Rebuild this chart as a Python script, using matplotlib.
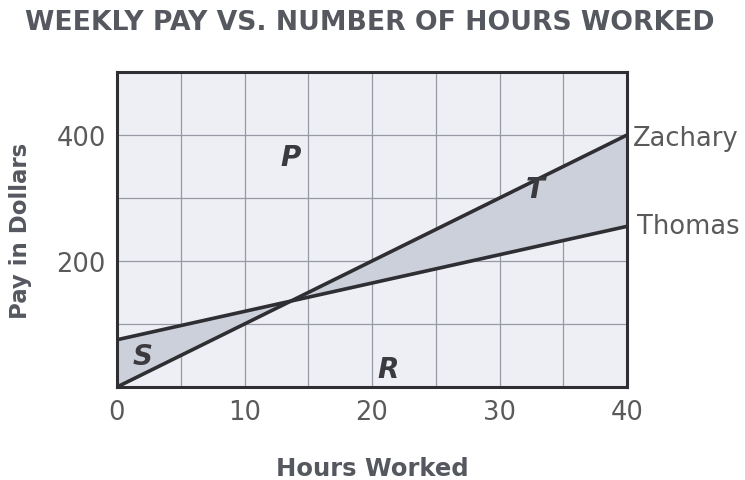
import matplotlib.pyplot as plt
import numpy as np

plt.rcParams["font.family"] = ["DejaVu Sans"]

hours = [0, 40]
zachary = [0, 400]
thomas = [75, 255]

region_labels = ["P", "T", "S", "R"]
region_x = [13.6, 32.8, 2.0, 21.3]
region_y = [365, 314, 49, 28]

fig = plt.figure(figsize=(7.45, 4.81), dpi=100)
ax = fig.add_axes([117 / 745, 1 - 388 / 481, 510 / 745, 315 / 481])
ax.set_facecolor("#edeff4")

# shaded gaps between the two lines
xs = np.linspace(hours[0], hours[1], 200)
z = np.interp(xs, hours, zachary)
t = np.interp(xs, hours, thomas)
ax.fill_between(xs, z, t, color="#ccd0da", zorder=1)

ax.plot(hours, zachary, color="#2e2e33", lw=2.6, zorder=3, solid_capstyle="butt")
ax.plot(hours, thomas, color="#2e2e33", lw=2.6, zorder=3, solid_capstyle="butt")

ax.set_xlim(0, 40)
ax.set_ylim(0, 500)
ax.set_xticks(np.arange(0, 41, 5))
ax.set_yticks(np.arange(0, 501, 100))
ax.set_xticklabels(["0", "", "10", "", "20", "", "30", "", "40"])
ax.set_yticklabels(["", "", "200", "", "400", ""])
ax.grid(True, color="#969aa4", lw=0.9, zorder=0)
ax.set_axisbelow(True)
ax.tick_params(length=0, labelsize=18.5, colors="#5a5a5a")
ax.tick_params(axis="x", pad=9)
ax.tick_params(axis="y", pad=8)
for s in ax.spines.values():
    s.set_linewidth(2.2)
    s.set_color("#2e2e33")

ax.text(40.5, zachary[1] - 4, "Zachary", fontsize=18.5, color="#5a5a5a", va="center", ha="left")
ax.text(40.8, thomas[1], "Thomas", fontsize=18.5, color="#5a5a5a", va="center", ha="left")

for lab, x, y in zip(region_labels, region_x, region_y):
    ax.text(x, y, lab, fontsize=20, fontweight="bold", fontstyle="italic",
            color="#3a3a3f", ha="center", va="center", zorder=4)

fig.text(25 / 745, 1 - 23 / 481, "WEEKLY PAY VS. NUMBER OF HOURS WORKED",
         fontsize=19.2, fontweight="bold", color="#55585f", va="center", ha="left")
ax.set_xlabel("Hours Worked", fontsize=17.5, fontweight="bold", color="#55585f", labelpad=22)
ax.set_ylabel("Pay in Dollars", fontsize=16.5, fontweight="bold", color="#55585f", labelpad=18)

fig.savefig("out.png", dpi=100)
